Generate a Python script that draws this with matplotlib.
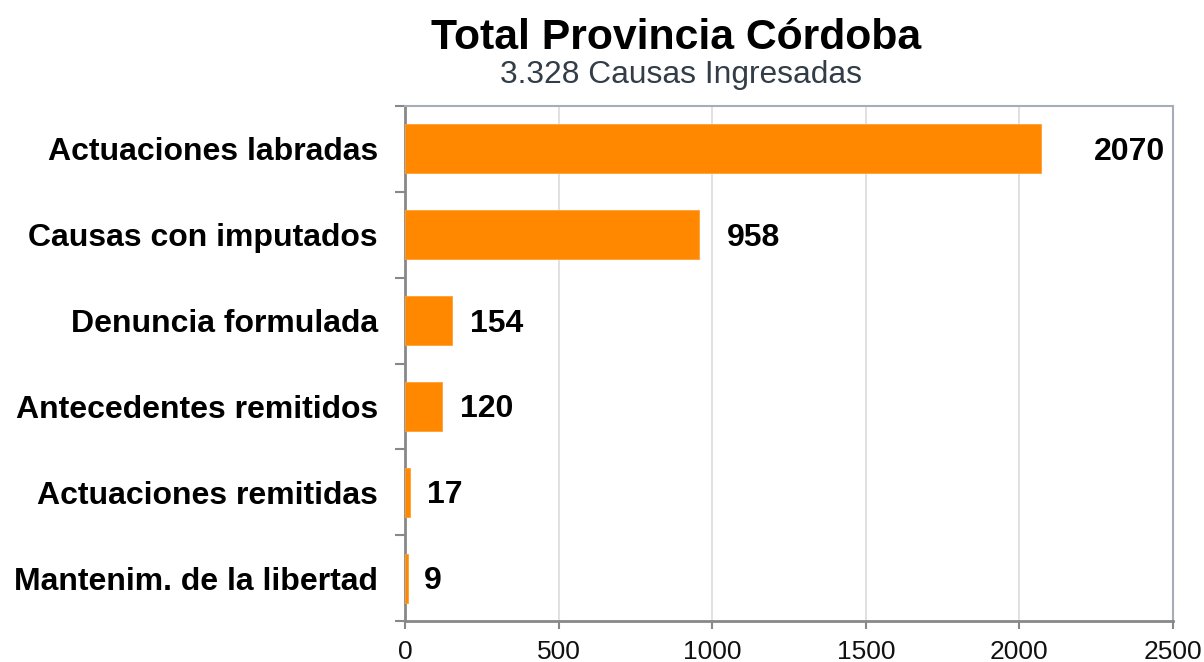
import matplotlib
matplotlib.use("Agg")
import matplotlib.pyplot as plt
from matplotlib.ticker import FixedLocator

plt.rcParams['font.family'] = ['Liberation Sans', 'DejaVu Sans']

categories = ["Actuaciones labradas", "Causas con imputados", "Denuncia formulada",
              "Antecedentes remitidos", "Actuaciones remitidas", "Mantenim. de la libertad"]
values = [2070, 958, 154, 120, 17, 9]
xticks = [0, 500, 1000, 1500, 2000, 2500]
title = "Total Provincia Córdoba"
subtitle = "3.328 Causas Ingresadas"

fig = plt.figure(figsize=(12.04, 6.62), dpi=100)
ax = fig.add_axes([405/1204, 41/662, 768/1204, 515/662])

n = len(categories)
ypos = list(range(n))
ax.barh(ypos, values, height=0.57, color="#FF8800", edgecolor="#FFA033", linewidth=0.6, zorder=3)
ax.set_ylim(n - 0.5, -0.5)
ax.set_xlim(xticks[0], xticks[-1])

# value labels
label_offsets_px = [53, 28, 18, 18, 17, 16]
for y, v, off in zip(ypos, values, label_offsets_px):
    ax.annotate(str(v), xy=(v, y), xytext=(off * 0.72, -2.2), textcoords="offset points",
                ha="left", va="center", fontsize=23, fontweight="bold", color="#000000")

ax.set_xticks(xticks)
ax.set_xticklabels([str(t) for t in xticks], fontsize=19, color="#111111")
ax.tick_params(axis="x", length=6, width=1.5, color="#888888", pad=8)

ax.set_yticks(ypos)
ax.set_yticklabels(categories, fontsize=23, fontweight="bold", color="#000000")
ax.tick_params(axis="y", which="major", length=0, pad=19.5)
ax.yaxis.set_minor_locator(FixedLocator([i - 0.5 for i in range(n + 1)]))
ax.tick_params(axis="y", which="minor", length=7, width=1.5, color="#888888")

ax.grid(axis="x", color="#dcdcdc", linewidth=1.2, zorder=0)
ax.set_axisbelow(True)

for s in ["left", "bottom"]:
    ax.spines[s].set_color("#888888")
    ax.spines[s].set_linewidth(2)
for s in ["top", "right"]:
    ax.spines[s].set_color("#a6adb5")
    ax.spines[s].set_linewidth(1.5)

fig.text(676/1204, 1 - 49/662, title, ha="center", va="baseline", fontsize=30.8,
         fontweight="bold", color="#000000")
fig.text(681/1204, 1 - 83/662, subtitle, ha="center", va="baseline", fontsize=22.9,
         color="#333d47")

fig.savefig("out.png", dpi=100)
